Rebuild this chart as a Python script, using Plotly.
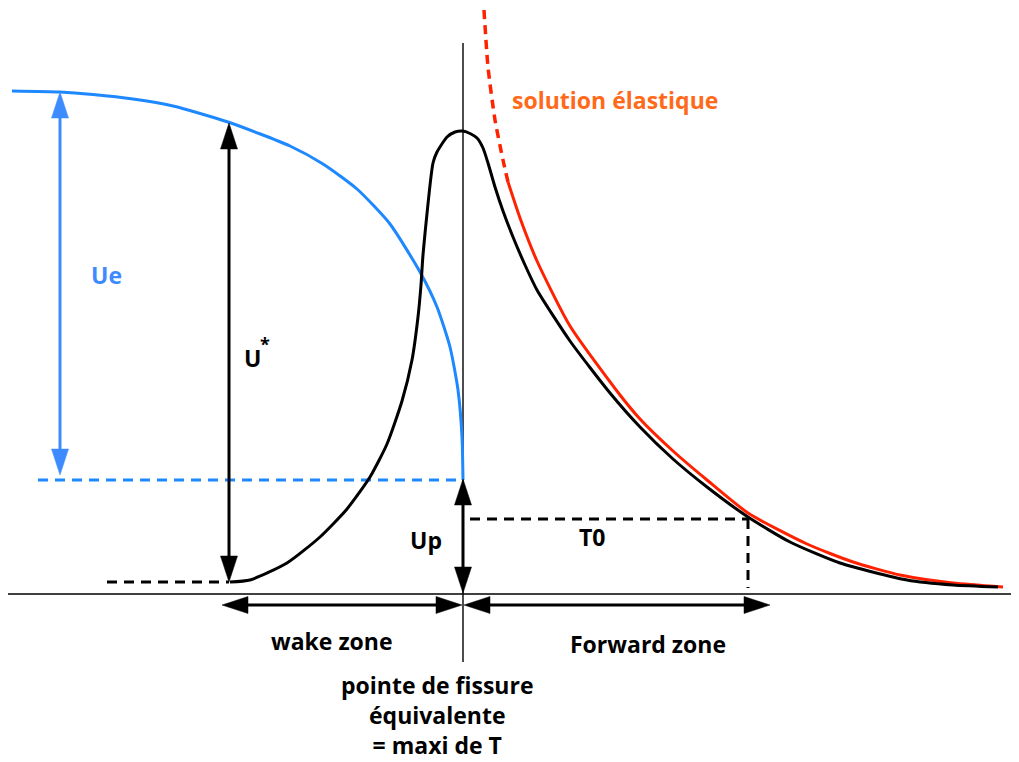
import plotly.graph_objects as go

# Coordinates: x = distance from equivalent crack tip, y = opening / stress level (schematic units)
# Black curve (T profile: wake zone + forward zone)
t_x = [-233, -213, -176, -143, -116, -93, -76, -61, -51, -45, -42, -40, -30,
       -26, -16, -8, 0, 8, 14, 20, 25, 32, 40, 50, 62, 74, 107, 147, 177, 210,
       244, 285, 327, 377, 444, 490, 535]
t_y = [12, 14, 31, 57, 85, 117, 150, 193, 234, 277, 309, 339, 431,
       442, 457, 462, 463, 460, 456, 446, 431, 407, 383, 357, 329, 304, 253, 201, 167, 135,
       107, 77, 52, 31, 14, 9, 7]

# Elastic solution (red) : dotted part then solid part
el_dot_x = [21, 25, 32, 40, 45]
el_dot_y = [584, 527, 474, 434, 412]
el_x = [45, 57, 74, 107, 157, 177, 210, 244, 285, 344, 390, 437, 490, 540]
el_y = [412, 376, 333, 268, 199, 175, 143, 114, 81, 50, 32, 19, 11, 7]

# Elastic opening Ue (blue)
ue_x = [-451, -403, -370, -330, -290, -235, -173, -140, -106, -73, -43, -26, -13, -5, -1, 0]
ue_y = [503, 502, 499.5, 495, 488, 472, 448, 430, 405, 370, 322, 287, 247, 204, 157, 114]

# Reference levels
up_level = 114        # Up (end of blue curve)
t0_level = 75         # T0 threshold
t0_x = 285            # end of forward zone where T = T0
ustar_x = -234        # position of U* measurement
ustar_top = 471
ustar_bottom = 12
ue_arrow_x = -403
ue_top = 502
wake_start = -241
forward_end = 307
zone_arrow_y = -11

BLACK = "#000000"
BLUE = "#1E88FF"
BLUE2 = "#3D8BFF"
RED = "#FF2200"
ORANGE = "#FF6A1A"
FONT = "Open Sans"
FS = 23

fig = go.Figure()


def line(xs, ys, color, width=3, dash=None, shape="linear", smoothing=0.6):
    fig.add_trace(go.Scatter(x=xs, y=ys, mode="lines", hoverinfo="skip", cliponaxis=False,
                             line=dict(color=color, width=width, dash=dash, shape=shape,
                                       smoothing=smoothing),
                             showlegend=False))


def head(tx, ty, dx, dy, color, length=26, half=8.5):
    # triangle with tip at (tx,ty), pointing in direction (dx,dy) (unit)
    bx, by = tx - dx * length, ty - dy * length
    px, py = -dy, dx
    fig.add_trace(go.Scatter(
        x=[tx, bx + px * half, bx - px * half, tx],
        y=[ty, by + py * half, by - py * half, ty],
        mode="lines", fill="toself", fillcolor=color, hoverinfo="skip",
        line=dict(color=color, width=0.5), showlegend=False))


def darrow(x0, y0, x1, y1, color, width=3, length=26, half=8.5):
    L = ((x1 - x0) ** 2 + (y1 - y0) ** 2) ** 0.5
    dx, dy = (x1 - x0) / L, (y1 - y0) / L
    line([x0 + dx * length * 0.9, x1 - dx * length * 0.9],
         [y0 + dy * length * 0.9, y1 - dy * length * 0.9], color, width)
    head(x1, y1, dx, dy, color, length, half)
    head(x0, y0, -dx, -dy, color, length, half)


# axes lines
line([-455, 556], [0, 0], BLACK, 1.6)
line([0, 0], [-68, 551], BLACK, 1.4)

# dashed guides
line([-425, 0], [up_level, up_level], BLUE, 3, dash="10px,7px")
line([-356, ustar_x], [ustar_bottom, ustar_bottom], BLACK, 3, dash="10px,7px")
line([7, t0_x], [t0_level, t0_level], BLACK, 3, dash="10px,7px")
line([t0_x, t0_x], [t0_level, 6], BLACK, 3, dash="10px,7px")

# curves
line(ue_x, ue_y, BLUE, 3, shape="spline")
line(el_dot_x, el_dot_y, RED, 3.5, dash="9px,6px", shape="spline")
line(el_x, el_y, RED, 3, shape="spline")
line(t_x, t_y, BLACK, 3, shape="spline")

# arrows
darrow(ue_arrow_x, up_level + 5, ue_arrow_x, ue_top, BLUE2)
darrow(ustar_x, ustar_bottom, ustar_x, ustar_top, BLACK)
darrow(0, 1, 0, up_level + 1, BLACK)
darrow(wake_start, zone_arrow_y, -1, zone_arrow_y, BLACK)
darrow(1, zone_arrow_y, forward_end, zone_arrow_y, BLACK)

# labels
labels = [
    ("Ue", -357, 319, BLUE2, FS),
    ("U", -211, 236, BLACK, FS),
    ("*", -198, 250, BLACK, 18),
    ("Up", -37, 54, BLACK, FS),
    ("T0", 129, 57, BLACK, FS),
    ("wake zone", -131, -47, BLACK, FS),
    ("Forward zone", 185, -50, BLACK, FS),
    ("pointe de fissure<br>équivalente<br>= maxi de T", -26, -121, BLACK, FS),
    ("solution élastique", 152, 494, ORANGE, FS),
]
for txt, x, y, c, s in labels:
    fig.add_annotation(x=x, y=y, text=f"<b>{txt}</b>", showarrow=False,
                       font=dict(family=FONT, size=s, color=c),
                       xanchor="center", yanchor="middle", align="center")

# page body has an 8px margin: shift the plotting window accordingly
fig.update_layout(
    width=1011, height=754,
    margin=dict(l=0, r=0, t=0, b=0),
    paper_bgcolor="white", plot_bgcolor="white",
    xaxis=dict(range=[-455, 556], visible=False, fixedrange=True),
    yaxis=dict(range=[-168, 586], visible=False, fixedrange=True),
    showlegend=False,
)

fig.write_html("out.html", config={"displayModeBar": False})
